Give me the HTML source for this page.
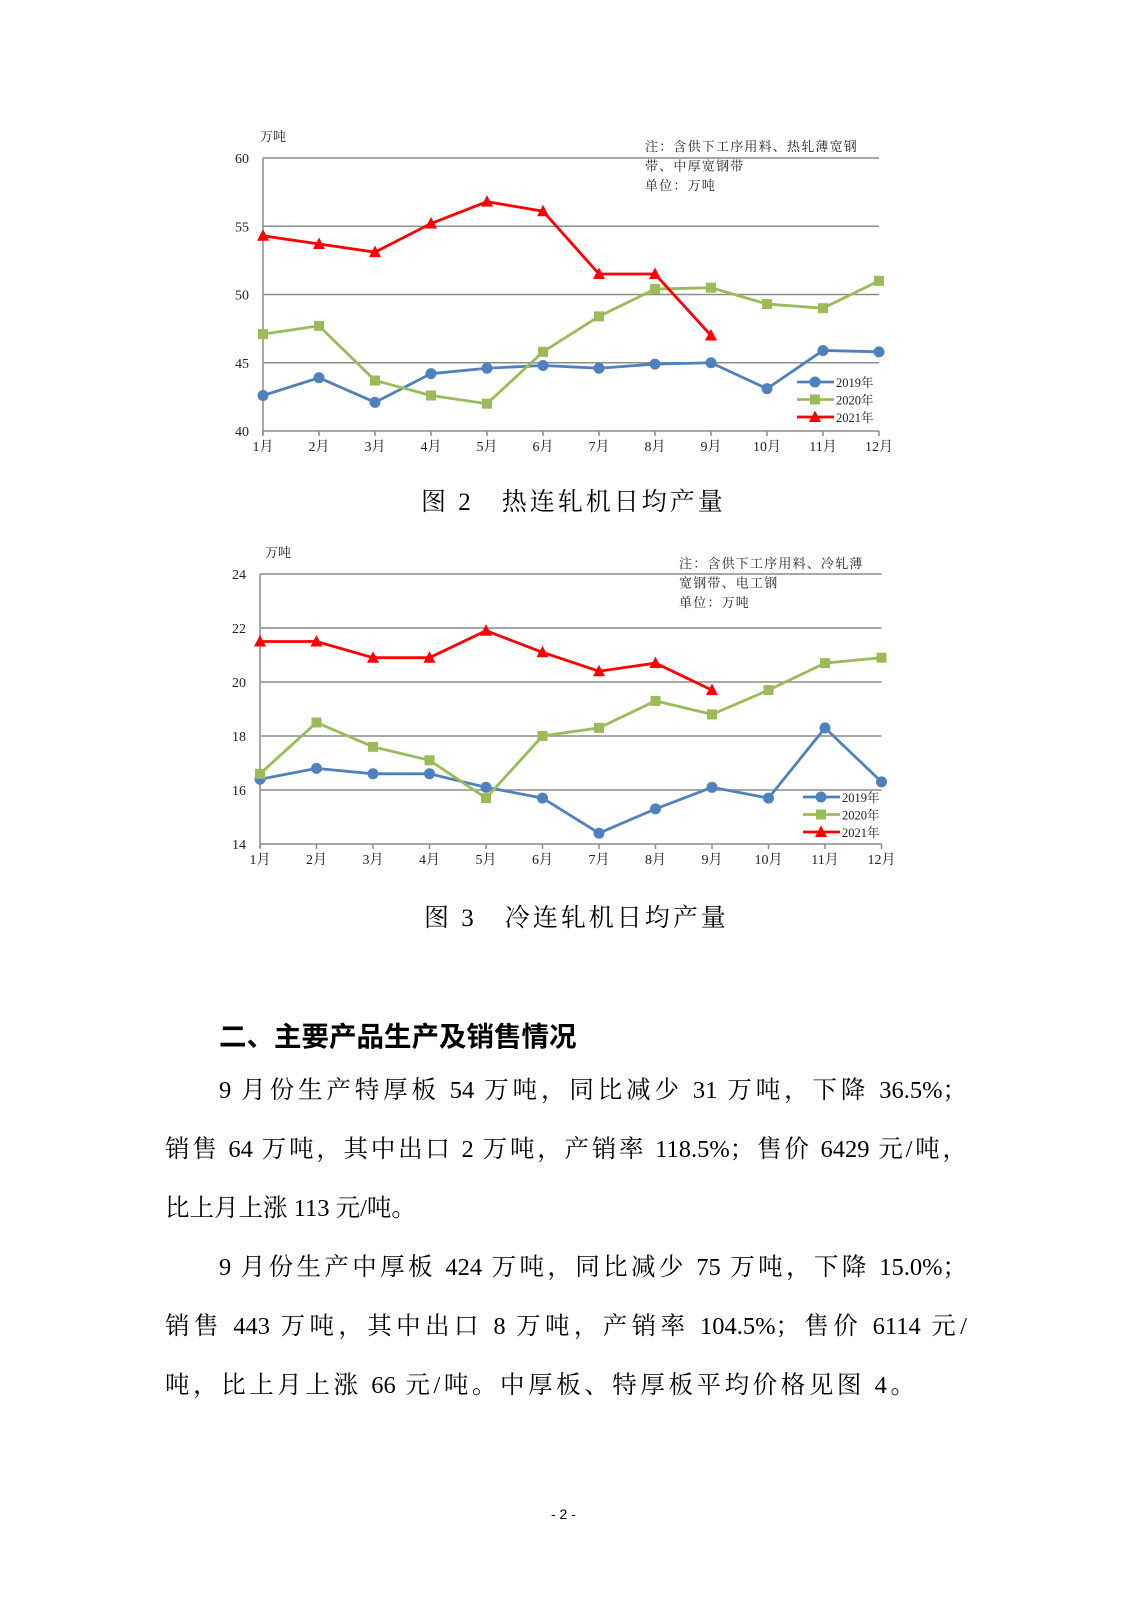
<!DOCTYPE html>
<html><head><meta charset="utf-8">
<style>
html,body{margin:0;padding:0;background:#fff;}
body{width:1131px;height:1600px;position:relative;overflow:hidden;}
svg{position:absolute;left:0;top:0;}
.t{position:absolute;font-family:"Liberation Serif","Noto Serif CJK SC",serif;font-size:24.5px;color:#000;white-space:nowrap;line-height:30px;}
.j{text-align:justify;text-align-last:justify;white-space:normal;}
.cap{position:absolute;font-family:"Liberation Serif","Noto Serif CJK SC",serif;font-size:25px;letter-spacing:3px;white-space:nowrap;}
.h{position:absolute;font-family:"Liberation Sans","Noto Sans CJK SC",sans-serif;font-weight:bold;font-size:27.5px;white-space:nowrap;}
</style></head>
<body>
<svg id="s" width="1131" height="1600" xmlns="http://www.w3.org/2000/svg" font-family="Liberation Serif, Noto Serif CJK SC, serif"></svg>

<div class="cap" style="left:421px;top:482px;">图 2　热连轧机日均产量</div>
<div class="cap" style="left:424px;top:898px;">图 3　冷连轧机日均产量</div>
<div class="h" style="left:219px;top:1014px;">二、主要产品生产及销售情况</div>
<div class="t j" style="left:219px;top:1076px;width:748px;">9 月份生产特厚板 54 万吨，同比减少 31 万吨，下降 36.5%；</div>
<div class="t j" style="left:165px;top:1135px;width:802px;">销售 64 万吨，其中出口 2 万吨，产销率 118.5%；售价 6429 元/吨，</div>
<div class="t" style="left:165px;top:1194px;">比上月上涨 113 元/吨。</div>
<div class="t j" style="left:219px;top:1253px;width:748px;">9 月份生产中厚板 424 万吨，同比减少 75 万吨，下降 15.0%；</div>
<div class="t j" style="left:165px;top:1312px;width:802px;">销售 443 万吨，其中出口 8 万吨，产销率 104.5%；售价 6114 元/</div>
<div class="t j" style="left:165px;top:1371px;width:750px;">吨，比上月上涨 66 元/吨。中厚板、特厚板平均价格见图 4。</div>
<div class="t" style="left:551px;top:1499px;font-size:14px;font-family:'Liberation Sans',sans-serif;">- 2 -</div>

<script>
const s=document.getElementById('s');let h='';
function chart(o){
 const X=i=>o.x0+o.dx*i, Y=v=>o.yb-(v-o.vmin)*o.k;
 const xr=X(11);
 for(let v=o.vmin;v<=o.vmax;v+=o.step){
  const y=Y(v);
  if(v>o.vmin)h+=`<line x1="${o.x0}" y1="${y}" x2="${xr}" y2="${y}" stroke="#8c8c8c" stroke-width="1.5"/>`;
  h+=`<text x="${o.x0-14}" y="${y+5}" font-size="14" text-anchor="end" fill="#222">${v}</text>`;
 }
 h+=`<line x1="${o.x0}" y1="${Y(o.vmax)}" x2="${o.x0}" y2="${o.yb+4}" stroke="#8c8c8c" stroke-width="1.5"/>`;
 h+=`<line x1="${o.x0}" y1="${o.yb}" x2="${xr}" y2="${o.yb}" stroke="#8c8c8c" stroke-width="1.5"/>`;
 for(let i=0;i<12;i++){h+=`<line x1="${X(i)}" y1="${o.yb}" x2="${X(i)}" y2="${o.yb+5}" stroke="#8c8c8c" stroke-width="1.5"/>`;
  h+=`<text x="${X(i)}" y="${o.yb+20}" font-size="14" text-anchor="middle" fill="#222">${i+1}月</text>`;}
 const cols=['#4f81bd','#9bbb59','#ff0000'];
 function mk(t,x,y,c){
  if(t==0)return `<circle cx="${x}" cy="${y}" r="5.5" fill="${c}"/>`;
  if(t==1)return `<rect x="${x-5}" y="${y-5}" width="10" height="10" fill="${c}"/>`;
  return `<polygon points="${x},${y-6.5} ${x+6},${y+5} ${x-6},${y+5}" fill="${c}"/>`;
 }
 o.d.forEach((d,t)=>{
  h+=`<polyline fill="none" stroke="${cols[t]}" stroke-width="2.8" points="${d.map((v,i)=>X(i)+','+Y(v)).join(' ')}"/>`;
  d.forEach((v,i)=>h+=mk(t,X(i),Y(v),cols[t]));
 });
 ['2019年','2020年','2021年'].forEach((n,t)=>{const y=o.ly+t*17.5;
  h+=`<line x1="${o.lx}" y1="${y}" x2="${o.lx+37}" y2="${y}" stroke="${cols[t]}" stroke-width="2.8"/>`+mk(t,o.lx+18,y,cols[t]);
  h+=`<text x="${o.lx+39}" y="${y+5}" font-size="12.5" fill="#222">${n}</text>`;});
 h+=`<text x="${o.ux}" y="${o.uy}" font-size="13" fill="#222">万吨</text>`;
 o.note.forEach((n,i)=>h+=`<text x="${o.nx}" y="${o.ny+i*19.5}" font-size="13" letter-spacing="1.2" fill="#222">${n}</text>`);
}
chart({x0:263,dx:56,yb:431,vmin:40,vmax:60,step:5,k:13.65,lx:797,ly:382,ux:260,uy:141,nx:645,ny:151,
 note:['注：含供下工序用料、热轧薄宽钢','带、中厚宽钢带','单位：万吨'],
 d:[[42.6,43.9,42.1,44.2,44.6,44.8,44.6,44.9,45.0,43.1,45.9,45.8],
    [47.1,47.7,43.7,42.6,42.0,45.8,48.4,50.4,50.5,49.3,49.0,51.0],
    [54.3,53.7,53.1,55.2,56.8,56.1,51.5,51.5,47.0]]});
chart({x0:260,dx:56.5,yb:844,vmin:14,vmax:24,step:2,k:27,lx:803,ly:797,ux:265,uy:557,nx:679,ny:568,
 note:['注：含供下工序用料、冷轧薄','宽钢带、电工钢','单位：万吨'],
 d:[[16.4,16.8,16.6,16.6,16.1,15.7,14.4,15.3,16.1,15.7,18.3,16.3],
    [16.6,18.5,17.6,17.1,15.7,18.0,18.3,19.3,18.8,19.7,20.7,20.9],
    [21.5,21.5,20.9,20.9,21.9,21.1,20.4,20.7,19.7]]});
s.innerHTML=h;
</script>
</body></html>
